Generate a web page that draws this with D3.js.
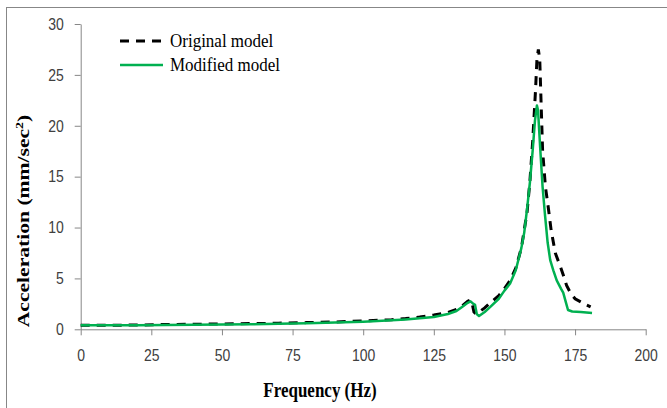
<!DOCTYPE html>
<html>
<head>
<meta charset="utf-8">
<script src="https://cdn.jsdelivr.net/npm/d3@7"></script>
<style>
html,body{margin:0;padding:0;background:#fff;}
svg{display:block;}
</style>
</head>
<body>
<svg id="chart" width="667" height="408"></svg>
<script>
// ---- data ----
const xTicks = [0,25,50,75,100,125,150,175,200];
const yTicks = [0,5,10,15,20,25,30];
const seriesNames = ["Original model","Modified model"];
const freqOrig = [0,10,20,30,40,50,60,70,80,90,100,110,115,120,125,130,133,135,137,138,138.6,139.2,140,141,143,145,148,150,152,154,156,158,159,160,161,161.5,162,162.5,163,163.5,164.5,165.5,166.5,168,170,171,172,173.5,175,177,179,180.5];
const valOrig  = [0.4,0.4,0.42,0.47,0.5,0.53,0.56,0.6,0.66,0.72,0.82,0.95,1.05,1.2,1.4,1.65,1.95,2.3,2.75,2.9,2.5,1.7,1.5,1.7,2.1,2.6,3.3,4.0,4.8,6.0,8.0,11.5,14.5,18.5,23.5,26.5,27.5,26.5,22,17.6,14,12,9.8,7.5,6.0,5.2,4.3,3.5,3.0,2.7,2.4,2.2];
const freqMod  = [0,10,20,30,40,50,60,70,80,90,100,110,115,120,125,130,133,135,137,138,139,139.6,140.2,141,143,145,148,150,152,154,156,157,158,159,160,160.8,161.5,161.9,162.3,162.7,163.5,164.4,165.3,166.2,167.3,168.5,170,170.8,171.8,172.5,174,177,181];
const valMod   = [0.4,0.4,0.41,0.42,0.44,0.47,0.5,0.54,0.6,0.66,0.75,0.88,0.97,1.08,1.2,1.5,1.8,2.2,2.6,2.75,2.5,2.4,1.5,1.3,1.7,2.2,3.0,3.8,4.5,5.8,8.0,9.5,11.8,14.4,17.6,20.5,22.0,21.5,19.5,17.6,14,11.1,8.5,6.8,5.8,4.8,4.0,3.6,2.6,1.9,1.75,1.7,1.6];

const svg = d3.select("#chart");
const axisColor = "#878787";

// outer frame
svg.append("rect").attr("x",6.5).attr("y",7.5).attr("width",670).attr("height",420)
  .attr("fill","none").attr("stroke",axisColor).attr("stroke-width",1);

const x = d3.scaleLinear().domain([0,200]).range([80.7,645.7]);
const y = d3.scaleLinear().domain([0,30]).range([329.3,24]);

// x axis
const xAxis = d3.axisBottom(x).tickValues(xTicks).tickSizeInner(6).tickSizeOuter(0).tickFormat(d3.format("d"));
const gx = svg.append("g").attr("transform",`translate(0,${y(0)})`).call(xAxis);
gx.select(".domain").attr("stroke",axisColor);
gx.selectAll(".tick line").attr("stroke",axisColor);
gx.selectAll(".tick text").remove();
gx.selectAll(".tick").append("text")
  .attr("text-anchor","middle")
  .attr("transform","translate(0,32) scale(1,1.12)")
  .attr("fill","#404040")
  .style("font-family","'Liberation Sans', Arial, sans-serif")
  .style("font-size","14px")
  .text(d=>d);

// y axis
const yAxis = d3.axisLeft(y).tickValues(yTicks).tickSizeInner(6).tickSizeOuter(0);
const gy = svg.append("g").attr("transform",`translate(${x(0)},0)`).call(yAxis);
gy.select(".domain").attr("stroke",axisColor);
gy.selectAll(".tick line").attr("stroke",axisColor);
gy.selectAll(".tick text").remove();
gy.selectAll(".tick").append("text")
  .attr("text-anchor","end")
  .attr("transform","translate(-17,5.3) scale(1,1.12)")
  .attr("fill","#404040")
  .style("font-family","'Liberation Sans', Arial, sans-serif")
  .style("font-size","14px")
  .text(d=>d);

// lines
const line = d3.line().x(d=>x(d[0])).y(d=>y(d[1]));
const dataOrig = freqOrig.map((f,i)=>[f,valOrig[i]]);
const dataMod = freqMod.map((f,i)=>[f,valMod[i]]);

svg.append("path").datum(dataOrig).attr("d",line)
  .attr("fill","none").attr("stroke","#000").attr("stroke-width",3)
  .attr("stroke-dasharray","9,7");
svg.append("path").datum(dataMod).attr("d",line)
  .attr("fill","none").attr("stroke","#00b050").attr("stroke-width",2.5)
  .attr("stroke-linejoin","round");

// legend
const legend = svg.append("g");
const legendItems = [
  {name: seriesNames[0], stroke:"#000", dash:"9,7", w:3, y:41},
  {name: seriesNames[1], stroke:"#00b050", dash:null, w:2.5, y:65}
];
legendItems.forEach(it=>{
  legend.append("line").attr("x1",120).attr("x2",163).attr("y1",it.y).attr("y2",it.y)
    .attr("stroke",it.stroke).attr("stroke-width",it.w)
    .attr("stroke-dasharray",it.dash);
  legend.append("text")
    .attr("transform",`translate(170,${it.y+5.5}) scale(1,1.1)`)
    .attr("fill","#000")
    .style("font-family","'Liberation Serif', 'Times New Roman', serif")
    .style("font-size","17px")
    .text(it.name);
});

// axis titles
svg.append("text")
  .attr("transform","translate(320,397) scale(1,1.2)")
  .attr("text-anchor","middle")
  .style("font-family","'Liberation Serif', 'Times New Roman', serif")
  .style("font-size","17px").style("font-weight","bold")
  .text("Frequency (Hz)");

const yt = svg.append("text")
  .attr("transform","translate(29,221) rotate(-90) scale(1.27,1)")
  .attr("text-anchor","middle")
  .style("font-family","'Liberation Serif', 'Times New Roman', serif")
  .style("font-size","17px").style("font-weight","bold");
yt.append("tspan").text("Acceleration (mm/sec");
yt.append("tspan").attr("dy",-6).style("font-size","11px").text("2");
yt.append("tspan").attr("dy",6).text(")");
</script>
</body>
</html>
